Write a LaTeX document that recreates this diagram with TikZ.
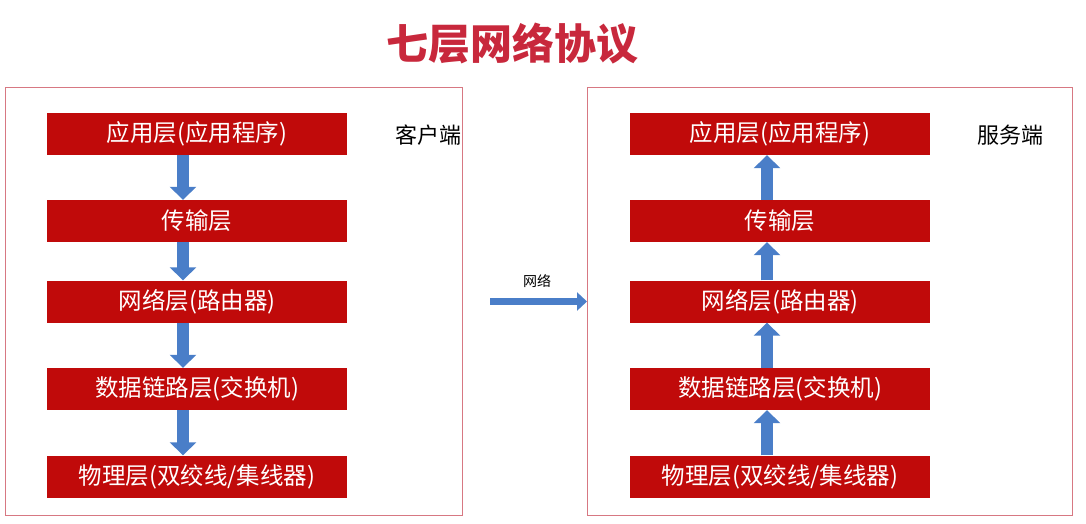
\documentclass[tikz,border=0pt]{standalone}
\usepackage{fontspec}
\setmainfont{Noto Sans CJK SC}
\usetikzlibrary{arrows.meta}
\definecolor{boxred}{RGB}{192,10,10}
\definecolor{titlered}{RGB}{200,40,60}
\definecolor{framered}{RGB}{215,120,130}
\definecolor{arrblue}{RGB}{74,126,200}
\begin{document}
\begin{tikzpicture}[x=1pt,y=-1pt,
  layer/.style={fill=boxred,text=white,minimum width=300pt,minimum height=42pt,inner sep=0pt,font=\fontsize{23.5}{23.5}\selectfont},
  frame/.style={draw=framered,line width=1pt},
  barrow/.style={draw=arrblue,line width=12pt,-{Triangle[width=26pt,length=13pt]}},
  lbl/.style={font=\fontsize{22}{22}\selectfont}]
\useasboundingbox (0,0) rectangle (1086,524);
\node[text=titlered,font=\fontsize{42}{42}\selectfont\bfseries] (title) at (512,44) {七层网络协议};
\node[frame,minimum width=457pt,minimum height=427pt,inner sep=0pt] (lf) at (233.5,301.5) {};
\node[frame,minimum width=485pt,minimum height=427pt,inner sep=0pt] (rf) at (829.5,301.5) {};
\node[layer] (l1) at (197,134) {应用层(应用程序)};
\node[layer] (l2) at (197,221) {传输层};
\node[layer] (l3) at (197,301.5) {网络层(路由器)};
\node[layer] (l4) at (197,389) {数据链路层(交换机)};
\node[layer] (l5) at (197,476.5) {物理层(双绞线/集线器)};
\node[layer] (r1) at (780,134) {应用层(应用程序)};
\node[layer] (r2) at (780,221) {传输层};
\node[layer] (r3) at (780,301.5) {网络层(路由器)};
\node[layer] (r4) at (780,389) {数据链路层(交换机)};
\node[layer] (r5) at (780,476.5) {物理层(双绞线/集线器)};
\node[lbl] (cl) at (428,135) {客户端};
\node[lbl] (sv) at (1010,135) {服务端};
\foreach \a/\b in {l1/l2,l2/l3,l3/l4,l4/l5}
  \draw[barrow] ([xshift=-14pt]\a.south) -- ([xshift=-14pt]\b.north);
\foreach \a/\b in {r5/r4,r4/r3,r3/r2,r2/r1}
  \draw[barrow] ([xshift=-13pt]\a.north) -- ([xshift=-13pt]\b.south);
\coordinate (ms) at (490,301.5);
\coordinate (me) at (587,301.5);
\draw[draw=arrblue,line width=7pt,-{Triangle[width=18pt,length=10pt]}] (ms) -- (me);
\node[font=\fontsize{14}{14}\selectfont] (net) at (537,281) {网络};
\end{tikzpicture}
\end{document}
